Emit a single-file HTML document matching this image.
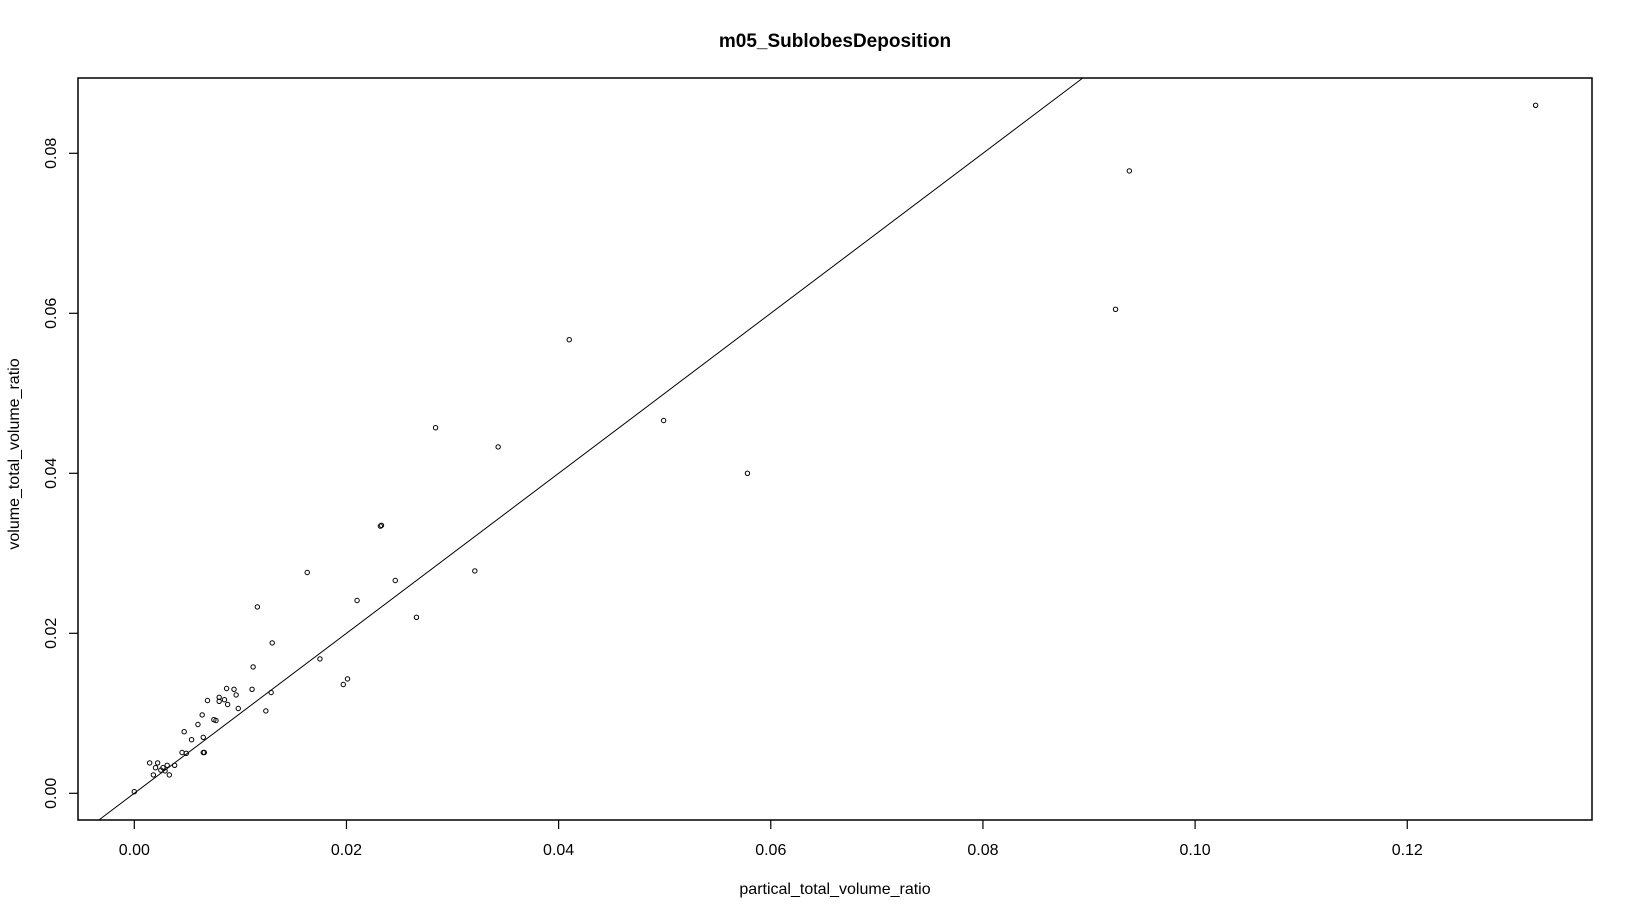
<!DOCTYPE html>
<html><head><meta charset="utf-8"><style>
html,body{margin:0;padding:0;background:#fff;}
svg{display:block;font-family:"Liberation Sans",Arial,sans-serif;}
</style></head><body>
<svg id="chart" width="1632" height="918" viewBox="0 0 1632 918" xmlns="http://www.w3.org/2000/svg">
<rect width="1632" height="918" fill="#fff"/>
<text x="835" y="47" text-anchor="middle" font-size="19" font-weight="bold">m05_SublobesDeposition</text>
<text x="835" y="894" text-anchor="middle" font-size="16">partical_total_volume_ratio</text>
<text transform="translate(19,454) rotate(-90)" text-anchor="middle" font-size="16">volume_total_volume_ratio</text>
<g id="axes"></g>
<g id="marks"></g>
<rect x="78" y="78" width="1514" height="742" fill="none" stroke="#000" stroke-width="1.5"/>
</svg>
<script>
const xTicks = [0, 0.02, 0.04, 0.06, 0.08, 0.10, 0.12];
const xTickLabels = ["0.00","0.02","0.04","0.06","0.08","0.10","0.12"];
const yTicks = [0, 0.02, 0.04, 0.06, 0.08];
const yTickLabels = ["0.00","0.02","0.04","0.06","0.08"];
const xValues = [0.0000,0.00145,0.0022,0.0020,0.0018,0.0025,0.0027,0.0029,0.0031,0.0033,0.0038,0.0045,0.0049,0.0047,0.0054,0.0060,0.0064,0.0065,0.0065,0.0066,0.0069,0.0075,0.0077,0.0080,0.0080,0.0085,0.0087,0.0088,0.0094,0.0096,0.0098,0.0111,0.0112,0.0116,0.0124,0.0129,0.0130,0.0163,0.0175,0.0197,0.0201,0.0210,0.0232,0.0233,0.0246,0.0266,0.0284,0.0321,0.0343,0.0410,0.0499,0.0578,0.0925,0.0938,0.1321];
const yValues = [0.0002,0.0038,0.0038,0.0032,0.0023,0.0029,0.0032,0.0028,0.0035,0.0023,0.0035,0.0051,0.0050,0.0077,0.0067,0.0086,0.0098,0.0070,0.0051,0.0051,0.0116,0.0092,0.0091,0.0120,0.0115,0.0117,0.0131,0.0111,0.0130,0.0123,0.0106,0.0130,0.0158,0.0233,0.0103,0.0126,0.0188,0.0276,0.0168,0.0136,0.0143,0.0241,0.0334,0.0335,0.0266,0.0220,0.0457,0.0278,0.0433,0.0567,0.0466,0.0400,0.0605,0.0778,0.0860];
const refLine = [0, 1]; // intercept, slope

const NS = "http://www.w3.org/2000/svg";
const box = {l:78, r:1592, t:78, b:820};
const X = v => 134.3 + v * 10608;
const Y = v => 793.3 - v * 8000;
const axes = document.getElementById('axes');
const marks = document.getElementById('marks');
function mk(tag, attrs, parent){const e=document.createElementNS(NS,tag);for(const k in attrs)e.setAttribute(k,attrs[k]);parent.appendChild(e);return e;}

xTicks.forEach((t,i)=>{
  const l = mk('line',{x1:X(t),x2:X(t),y1:box.b,y2:box.b+9,stroke:'#000','stroke-width':1.2},axes);
  
  
  const tx = mk('text',{x:X(t),y:855,'text-anchor':'middle','font-size':16},axes);
  tx.textContent = xTickLabels[i];
  
  
});
yTicks.forEach((t,i)=>{
  const l = mk('line',{x1:box.l-9,x2:box.l,y1:Y(t),y2:Y(t),stroke:'#000','stroke-width':1.2},axes);
  
  
  const tx = mk('text',{transform:`translate(56,${Y(t)}) rotate(-90)`,'text-anchor':'middle','font-size':16},axes);
  tx.textContent = yTickLabels[i];
  
  
});

const xa = (box.l-134.3)/10608, xb = (box.r-134.3)/10608;
const ya = (793.3-box.b)/8000, yb = (793.3-box.t)/8000;
const f = x => refLine[0] + refLine[1]*x;
const finv = y => (y - refLine[0]) / refLine[1];
let x1 = Math.max(xa, finv(ya)), x2 = Math.min(xb, finv(yb));
const line = mk('line',{x1:X(x1),y1:Y(f(x1)),x2:X(x2),y2:Y(f(x2)),stroke:'#000','stroke-width':1},marks);



xValues.forEach((xv,i)=>{
  const c = mk('circle',{cx:X(xv),cy:Y(yValues[i]),r:2.2,fill:'none',stroke:'#000','stroke-width':1},marks);
  
  
});
</script>
</body></html>
